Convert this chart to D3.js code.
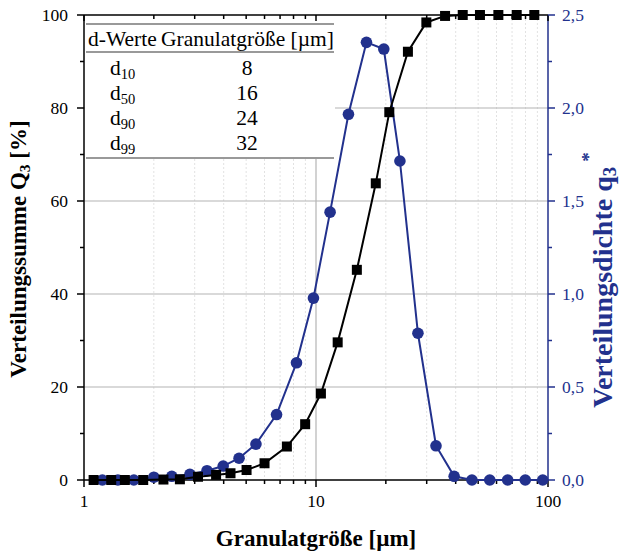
<!DOCTYPE html>
<html>
<head>
<meta charset="utf-8">
<script src="https://cdn.jsdelivr.net/npm/d3@7"></script>
<style>
    body { margin: 0; background: white; }
    svg { display: block; font-family: "Liberation Serif", "Times New Roman", serif; }
</style>
</head>
<body>
<div id="chart"></div>
<script>
const log = console.log

// Verteilungssumme Q3 (black squares)
const sumSizes = [1.10, 1.31, 1.50, 1.80, 2.20, 2.59, 3.10, 3.71, 4.28, 5.02, 6.00, 7.49, 8.98, 10.5, 12.4, 15.0, 18.1, 20.7, 24.9, 29.9, 36.0, 42.9, 50.9, 61.1, 73.3, 87.3]
const sumValues = [0, 0, 0, 0, 0.1, 0.15, 0.7, 1.1, 1.45, 2.15, 3.6, 7.2, 12.0, 18.6, 29.6, 45.2, 63.8, 79.1, 92.1, 98.4, 99.8, 100, 100, 100, 100, 100]

// Verteilungsdichte q3* (blue circles)
const densSizes = [1.20, 1.40, 1.64, 2.00, 2.39, 2.86, 3.39, 3.98, 4.66, 5.51, 6.76, 8.24, 9.75, 11.5, 13.8, 16.5, 19.6, 23.0, 27.5, 32.9, 39.4, 47.0, 56.1, 67.0, 79.8, 94.9]
const densValues = [0, 0, 0, 0.015, 0.02, 0.03, 0.05, 0.075, 0.117, 0.193, 0.352, 0.63, 0.978, 1.44, 1.966, 2.353, 2.317, 1.715, 0.789, 0.184, 0.02, 0, 0, 0, 0, 0]

// table
const tableNames = ["10", "50", "90", "99"]
const tableValues = [8, 16, 24, 32]

const leftTicks = [0, 20, 40, 60, 80, 100]
const rightTicks = [0, 0.5, 1.0, 1.5, 2.0, 2.5]
const xTicks = [1, 10, 100]

const blue = "#22318d"
const W = 620, H = 553
const plot = {left: 84, right: 548, top: 15, bottom: 480}

const svg = d3.select("#chart").append("svg").attr("width", W).attr("height", H)

const x = d3.scaleLog().domain([1, 100]).range([plot.left, plot.right])
const yL = d3.scaleLinear().domain([0, 100]).range([plot.bottom, plot.top])
const yR = d3.scaleLinear().domain([0, 2.5]).range([plot.bottom, plot.top])

// minor values on the log axis
const minorX = []
for (let dec of [1, 10]) {
    for (let k = 2; k <= 9; k++) minorX.push(dec * k)
}

/** Grid */
const grid = svg.append("g")
grid.selectAll("line.minor").data(minorX).enter().append("line")
    .attr("x1", d => x(d)).attr("x2", d => x(d))
    .attr("y1", plot.top).attr("y2", plot.bottom)
    .attr("stroke", "#e2e2e2").attr("stroke-width", 1).attr("stroke-dasharray", "2,2")
grid.append("line")
    .attr("x1", x(10)).attr("x2", x(10))
    .attr("y1", plot.top).attr("y2", plot.bottom)
    .attr("stroke", "#b4b4b4").attr("stroke-width", 1.2)
grid.selectAll("line.h").data([20, 40, 60, 80]).enter().append("line")
    .attr("x1", plot.left).attr("x2", plot.right)
    .attr("y1", d => yL(d)).attr("y2", d => yL(d))
    .attr("stroke", "#b4b4b4").attr("stroke-width", 1.2)

/** Table (white box covers grid) */
const table = svg.append("g")
table.append("rect").attr("x", plot.left + 1).attr("y", plot.top + 1)
    .attr("width", 250).attr("height", 143).attr("fill", "white")
const tableLines = [24, 52, 158]
table.selectAll("line").data(tableLines).enter().append("line")
    .attr("x1", 86).attr("x2", 334)
    .attr("y1", d => d).attr("y2", d => d)
    .attr("stroke", "#777").attr("stroke-width", 1.5)
table.append("text").attr("x", 88).attr("y", 46).attr("font-size", 21.5).text("d-Werte")
table.append("text").attr("x", 161).attr("y", 46).attr("font-size", 21.5).text("Granulatgröße [µm]")
tableNames.forEach(function(n, i) {
    const ty = 75 + i * 25
    const t = table.append("text").attr("x", 110).attr("y", ty).attr("font-size", 21.5)
    t.append("tspan").text("d")
    t.append("tspan").attr("font-size", 14.5).attr("dy", 4).text(n)
    table.append("text").attr("x", 247).attr("y", ty).attr("font-size", 21.5)
        .attr("text-anchor", "middle").text(tableValues[i])
})

/** Axes */
const axes = svg.append("g")
// frame lines
axes.append("line").attr("x1", plot.left).attr("x2", plot.right).attr("y1", plot.top).attr("y2", plot.top)
    .attr("stroke", "black").attr("stroke-width", 1.5)
axes.append("line").attr("x1", plot.left).attr("x2", plot.right).attr("y1", plot.bottom).attr("y2", plot.bottom)
    .attr("stroke", "black").attr("stroke-width", 1.5)
axes.append("line").attr("x1", plot.left).attr("x2", plot.left).attr("y1", plot.top).attr("y2", plot.bottom)
    .attr("stroke", "black").attr("stroke-width", 1.5)
axes.append("line").attr("x1", plot.right).attr("x2", plot.right).attr("y1", plot.top).attr("y2", plot.bottom)
    .attr("stroke", blue).attr("stroke-width", 1.5)

// bottom ticks
axes.selectAll("line.xmaj").data(xTicks).enter().append("line")
    .attr("x1", d => x(d)).attr("x2", d => x(d)).attr("y1", plot.bottom).attr("y2", plot.bottom + 7)
    .attr("stroke", "black").attr("stroke-width", 1.5)
axes.selectAll("line.xmin").data(minorX).enter().append("line")
    .attr("x1", d => x(d)).attr("x2", d => x(d)).attr("y1", plot.bottom).attr("y2", plot.bottom + 4)
    .attr("stroke", "black").attr("stroke-width", 1.5)
// top ticks, inward
axes.selectAll("line.xtop").data(xTicks.concat(minorX)).enter().append("line")
    .attr("x1", d => x(d)).attr("x2", d => x(d)).attr("y1", plot.top).attr("y2", d => plot.top + (xTicks.includes(d) ? 6 : 4))
    .attr("stroke", "black").attr("stroke-width", 1.5)
axes.selectAll("text.xlab").data(xTicks).enter().append("text")
    .attr("x", d => x(d)).attr("y", 507).attr("text-anchor", "middle")
    .attr("font-size", 17.5).text(d => d)

// left ticks
axes.selectAll("line.lmaj").data(leftTicks).enter().append("line")
    .attr("x1", plot.left - 7).attr("x2", plot.left).attr("y1", d => yL(d)).attr("y2", d => yL(d))
    .attr("stroke", "black").attr("stroke-width", 1.5)
axes.selectAll("line.lmin").data([10, 30, 50, 70, 90]).enter().append("line")
    .attr("x1", plot.left - 4).attr("x2", plot.left).attr("y1", d => yL(d)).attr("y2", d => yL(d))
    .attr("stroke", "black").attr("stroke-width", 1.5)
axes.selectAll("text.llab").data(leftTicks).enter().append("text")
    .attr("x", 68).attr("y", d => yL(d) + 6).attr("text-anchor", "end")
    .attr("font-size", 17.5).text(d => d)

// right ticks
const fmtR = d => d3.format(".1f")(d).replace(".", ",")
axes.selectAll("line.rmaj").data(rightTicks).enter().append("line")
    .attr("x1", plot.right).attr("x2", plot.right + 7).attr("y1", d => yR(d)).attr("y2", d => yR(d))
    .attr("stroke", blue).attr("stroke-width", 1.5)
axes.selectAll("line.rmin").data([0.25, 0.75, 1.25, 1.75, 2.25]).enter().append("line")
    .attr("x1", plot.right).attr("x2", plot.right + 4).attr("y1", d => yR(d)).attr("y2", d => yR(d))
    .attr("stroke", blue).attr("stroke-width", 1.5)
axes.selectAll("text.rlab").data(rightTicks).enter().append("text")
    .attr("x", 562).attr("y", d => yR(d) + 6)
    .attr("font-size", 17.5).attr("fill", blue).text(fmtR)

/** Titles */
svg.append("text").attr("x", (plot.left + plot.right) / 2).attr("y", 546)
    .attr("text-anchor", "middle").attr("font-size", 23).attr("font-weight", "bold")
    .text("Granulatgröße [µm]")

const lt = svg.append("text").attr("transform", "translate(26,249) rotate(-90)")
    .attr("text-anchor", "middle").attr("font-size", 23).attr("font-weight", "bold")
lt.append("tspan").text("Verteilungssumme Q")
lt.append("tspan").attr("font-size", 15.5).attr("dy", 4).text("3")
lt.append("tspan").attr("dy", -4).text(" [%]")

const rt = svg.append("text").attr("transform", "translate(612,280) rotate(-90)")
    .attr("text-anchor", "middle").attr("font-size", 28).attr("font-weight", "bold").attr("fill", blue)
rt.append("tspan").text("Verteilungsdichte q")
rt.append("tspan").attr("font-size", 19).attr("dy", 4).text("3")
rt.append("tspan").attr("font-size", 19).attr("dy", -21).attr("dx", 5).text("*")

/** Series */
const densLine = d3.line().x((d, i) => x(densSizes[i])).y(d => yR(d))
svg.append("path").datum(densValues).attr("d", densLine)
    .attr("fill", "none").attr("stroke", blue).attr("stroke-width", 2)
svg.selectAll("circle.dens").data(densValues).enter().append("circle")
    .attr("cx", (d, i) => x(densSizes[i])).attr("cy", d => yR(d)).attr("r", 5.8)
    .attr("fill", blue)

const sumLine = d3.line().x((d, i) => x(sumSizes[i])).y(d => yL(d))
svg.append("path").datum(sumValues).attr("d", sumLine)
    .attr("fill", "none").attr("stroke", "black").attr("stroke-width", 2)
svg.selectAll("rect.sum").data(sumValues).enter().append("rect")
    .attr("x", (d, i) => x(sumSizes[i]) - 5).attr("y", d => yL(d) - 5)
    .attr("width", 10).attr("height", 10).attr("fill", "black")
</script>
</body>
</html>
